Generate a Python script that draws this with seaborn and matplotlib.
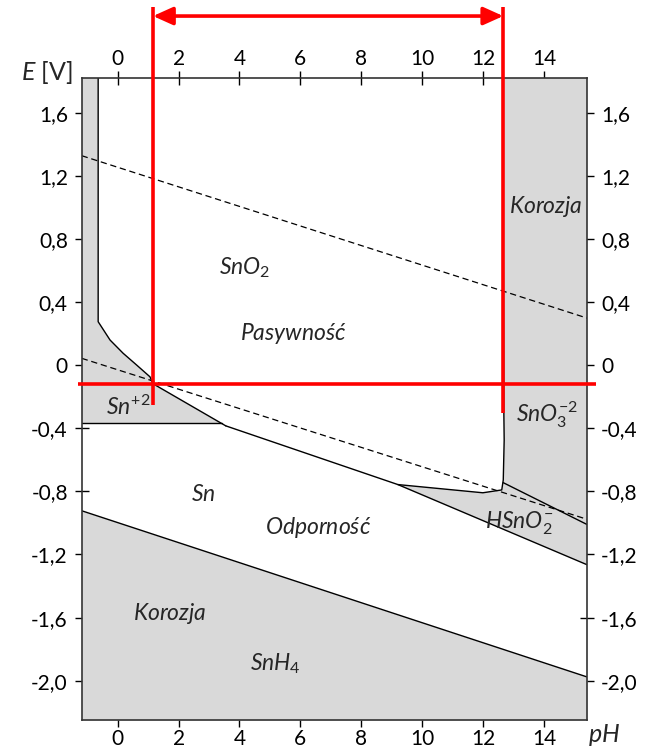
import numpy as np
import pandas as pd
import matplotlib
matplotlib.use("Agg")
import matplotlib.pyplot as plt
import matplotlib.ticker as ticker
import seaborn as sns

# axis ranges (pH, E in V)
ph_lim = [-1.18, 15.41]
e_lim = [-2.249, 1.821]
ph_ticks = [0, 2, 4, 6, 8, 10, 12, 14]
e_ticks = [1.6, 1.2, 0.8, 0.4, 0.0, -0.4, -0.8, -1.2, -1.6, -2.0]

# Sn+2 / SnO2 boundary (vertical part, curve, straight part down to the kink)
ph_sn2 = [-0.64, -0.64, -0.25, 0.18, 0.62, 1.06, 1.16, 3.55]
e_sn2 = [1.821, 0.275, 0.159, 0.075, 0.001, -0.074, -0.118, -0.385]
# Sn+2 / Sn floor
ph_sn2_floor = [-1.18, 3.42]
e_sn2_floor = [-0.37, -0.37]

# Sn / SnO2 and Sn / HSnO2- line
ph_sn = [3.55, 9.2, 15.41]
e_sn = [-0.385, -0.757, -1.265]

# SnO2 / SnO3-2 and SnO2 / HSnO2- boundary
ph_right = [12.64, 12.68, 12.69, 12.66, 12.61, 11.99, 9.2]
e_right = [1.821, -0.316, -0.475, -0.728, -0.791, -0.809, -0.757]

# SnO3-2 / HSnO2-
ph_hsno = [12.66, 15.41]
e_hsno = [-0.745, -1.01]

# Sn / SnH4
ph_snh4 = [-1.18, 15.41]
e_snh4 = [-0.923, -1.976]

# water stability lines (dashed)
ph_water = [-1.18, 15.41]
e_o2 = [1.327, 0.298]
e_h2 = [0.043, -0.977]

# red marker lines
ph_red = [1.16, 12.66]
e_red = -0.122
e_red_top = 2.27
e_arrow = 2.212
e_red_bottom = [-0.253, -0.304]
ph_red_h = [-1.29, 15.70]

# region labels
labels = ["$SnO_2$", "$Pasywno\u015b\u0107$", "$Sn^{+2}$", "$SnO_3^{-2}$", "$Korozja$",
          "$Sn$", "$Odporno\u015b\u0107$", "$HSnO_2^{-}$", "$Korozja$", "$SnH_4$"]
label_ph = [4.18, 5.76, 0.34, 14.1, 14.06, 2.81, 6.58, 13.2, 1.72, 5.17]
label_e = [0.615, 0.203, -0.265, -0.317, 1.007, -0.817, -1.027, -0.995, -1.571, -1.895]

sns.set_theme(style="ticks")
plt.rcParams['font.family'] = ['Lato', 'DejaVu Sans']
plt.rcParams['mathtext.fontset'] = 'custom'
plt.rcParams['mathtext.it'] = 'Lato:italic'
plt.rcParams['mathtext.rm'] = 'Lato'
plt.rcParams['mathtext.default'] = 'it'

gray = '#d9d9d9'
fig = plt.figure(figsize=(6.47, 7.49), dpi=100)
ax = fig.add_axes([0.1263, 0.0387, 0.781, 0.8575])
ax.set_xlim(ph_lim)
ax.set_ylim(e_lim)

# ---- shaded (corrosion) regions ----
left_x = [ph_lim[0]] + ph_sn2[:-1] + [ph_sn2_floor[1], ph_lim[0]]
left_y = [e_lim[1]] + e_sn2[:-1] + [e_sn2_floor[1], e_sn2_floor[0]]
ax.fill(left_x, left_y, color=gray, lw=0)

right_x = [ph_lim[1]] + ph_right + ph_sn[1:]
right_y = [e_lim[1]] + e_right + e_sn[1:]
ax.fill(right_x, right_y, color=gray, lw=0)

ax.fill_between(ph_snh4, e_snh4, e_lim[0], color=gray, lw=0)

# ---- boundary lines ----
for xs, ys in [(ph_sn2, e_sn2), (ph_sn2_floor, e_sn2_floor), (ph_sn, e_sn),
               (ph_right, e_right), (ph_hsno, e_hsno), (ph_snh4, e_snh4)]:
    sns.lineplot(x=xs, y=ys, sort=False, estimator=None, ax=ax, color='black', lw=1.0)

for ys in [e_o2, e_h2]:
    sns.lineplot(x=ph_water, y=ys, sort=False, estimator=None, ax=ax,
                 color='black', lw=0.9, linestyle=(0, (5, 3)))

# ---- red lines (go outside the axes) ----
red_lw = 2.6
for p, eb in zip(ph_red, e_red_bottom):
    ax.plot([p, p], [e_red_top, eb], color='red', lw=red_lw, clip_on=False, zorder=6,
            solid_capstyle='butt')
ax.plot(ph_red_h, [e_red, e_red], color='red', lw=red_lw, clip_on=False, zorder=6,
        solid_capstyle='butt')
ax.annotate('', xy=(ph_red[0], e_arrow), xytext=(ph_red[1], e_arrow),
            arrowprops=dict(arrowstyle='<|-|>,head_length=0.6,head_width=0.27',
                            mutation_scale=20, color='red', lw=red_lw,
                            shrinkA=0, shrinkB=0),
            annotation_clip=False, zorder=6)

# ---- region labels ----
for t, x, y in zip(labels, label_ph, label_e):
    ax.text(x, y, t, ha='center', va='center', fontsize=16.5, zorder=5)

# ---- axes, ticks ----
ax.set_xticks(ph_ticks)
ax.set_yticks(e_ticks)
ax.xaxis.set_major_formatter(ticker.FuncFormatter(lambda v, p: f"{int(round(v))}"))
ax.yaxis.set_major_formatter(ticker.FuncFormatter(
    lambda v, p: "0" if abs(v) < 1e-9 else f"{v:.1f}".replace('.', ',')))
ax.tick_params(axis='both', which='major', direction='inout', length=10, width=1.0,
               labelsize=15, colors='black',
               top=True, right=True, labeltop=True, labelright=True)
ax.tick_params(axis='x', pad=1.5)
ax.tick_params(axis='y', pad=5)
for s in ax.spines.values():
    s.set_color('#333333')
    s.set_linewidth(1.2)
ax.set_xlabel('')
ax.set_ylabel('')

fig.text(73 / 647, 1 - 73 / 749, '$E$ [V]', ha='right', va='center', fontsize=18)
fig.text(588 / 647, 1 - 735 / 749, '$pH$', ha='left', va='center', fontsize=18)

fig.savefig('out.png', dpi=100)
